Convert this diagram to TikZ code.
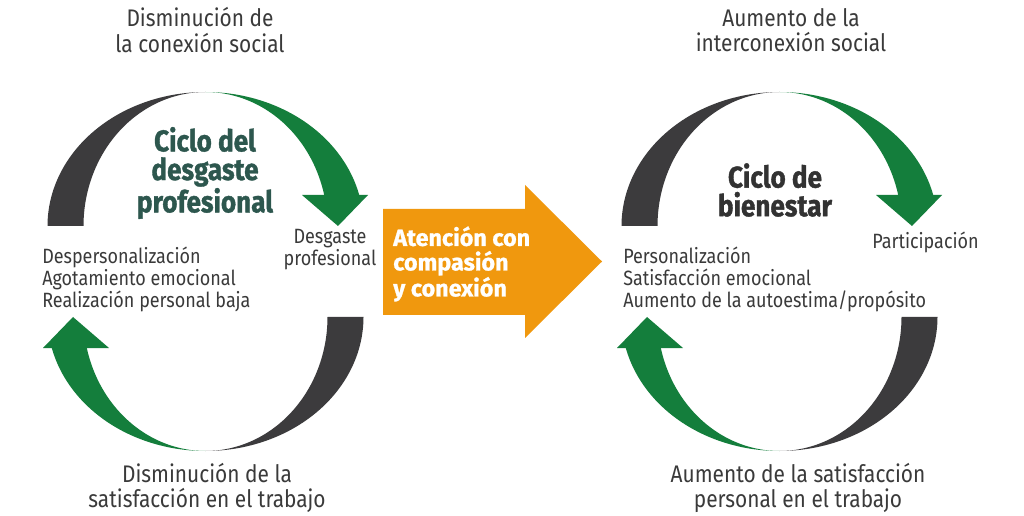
\documentclass[tikz,border=0pt]{standalone}
\usepackage{fontspec}
\setmainfont{Fira Sans}[FakeStretch=0.87]
\newfontfamily\heavyfont{Fira Sans}[FakeStretch=0.87, BoldFeatures={FakeBold=1.2}]
\newfontfamily\widefont{Fira Sans}[BoldFeatures={FakeBold=1}]
\definecolor{arcdark}{RGB}{60,59,61}
\definecolor{arcgreen}{RGB}{20,126,60}
\definecolor{orng}{RGB}{240,152,14}
\definecolor{teal}{RGB}{45,87,78}
\definecolor{txt}{RGB}{58,58,58}
\definecolor{ttl}{RGB}{50,50,50}
\tikzset{
  dk/.style={fill=arcdark},
  gr/.style={fill=arcgreen},
  lbl/.style={font=\fontsize{18}{19}\selectfont, text=txt, align=center, inner sep=0pt},
  lst/.style={font=\fontsize{15.5}{16.2}\selectfont, text=txt, align=left, inner sep=0pt, anchor=north west},
  small/.style={font=\fontsize{15.5}{13.5}\selectfont, text=txt, align=center, inner sep=0pt},
  title/.style={font=\heavyfont\bfseries\fontsize{22.5}{21.5}\selectfont, align=center, inner sep=0pt},
  orangetxt/.style={font=\widefont\bfseries\fontsize{17.5}{18.4}\selectfont, text=white, align=left, inner sep=0pt, anchor=west}
}
\newcommand{\cyclearcs}{%
  \fill[dk] plot[domain=180:270,samples=60] ({205.5+158*cos(\x)},{226+134*sin(\x)})
    -- plot[domain=270:180,samples=60] ({205.5+122*cos(\x)},{226+134*sin(\x)}) -- cycle;
  \fill[gr] plot[domain=270:346.6,samples=60] ({205.5+158*cos(\x)},{226+134*sin(\x)})
    -- (368,195) -- (338,226) -- (302,195)
    -- plot[domain=346.6:270,samples=60] ({205.5+122*cos(\x)},{226+134*sin(\x)}) -- cycle;
  \fill[dk] plot[domain=0:90,samples=60] ({205.5+158*cos(\x)},{317+134*sin(\x)})
    -- plot[domain=90:0,samples=60] ({205.5+122*cos(\x)},{317+134*sin(\x)}) -- cycle;
  \fill[gr] plot[domain=90:166.6,samples=60] ({205.5+158*cos(\x)},{317+134*sin(\x)})
    -- (43,348) -- (73,317) -- (109,348)
    -- plot[domain=166.6:90,samples=60] ({205.5+122*cos(\x)},{317+134*sin(\x)}) -- cycle;
}
\begin{document}
\begin{tikzpicture}[x=0.75pt,y=-0.75pt]
\useasboundingbox (0,0) rectangle (1024,516);
\fill[white] (0,0) rectangle (1024,516);
% left cycle
\cyclearcs
% right cycle
\begin{scope}[shift={(574,0)}]
\cyclearcs
\end{scope}
% orange arrow
\fill[orng] (383,209) -- (525,209) -- (525,185) -- (602,261.5) -- (525,338) -- (525,315) -- (383,315) -- cycle;
\node[orangetxt] (att) at (393,264) {Atención con\\compasión\\y conexión};
% labels
\node[lbl] (tl) at (200,30) {Disminución de\\la conexión social};
\node[lbl] (tr) at (791,30) {Aumento de la\\interconexión social};
\node[lbl] (bl) at (207,488) {Disminución de la\\satisfacción en el trabajo};
\node[lbl] (br) at (798,488) {Aumento de la satisfacción\\personal en el trabajo};
\node[title,text=teal] (t1) at (205,173) {Ciclo del\\desgaste\\profesional};
\node[title,text=ttl] (t2) at (775,190) {Ciclo de\\bienestar};
\node[small] (dp) at (330,250) {Desgaste\\profesional};
\node[lbl,font=\fontsize{15.5}{16}\selectfont] (pa) at (925.5,242) {Participación};
\node[lst] (l1) at (42,247) {Despersonalización\\Agotamiento emocional\\Realización personal baja};
\node[lst] (l2) at (623,247) {Personalización\\Satisfacción emocional\\Aumento de la autoestima/propósito};
\end{tikzpicture}
\end{document}
